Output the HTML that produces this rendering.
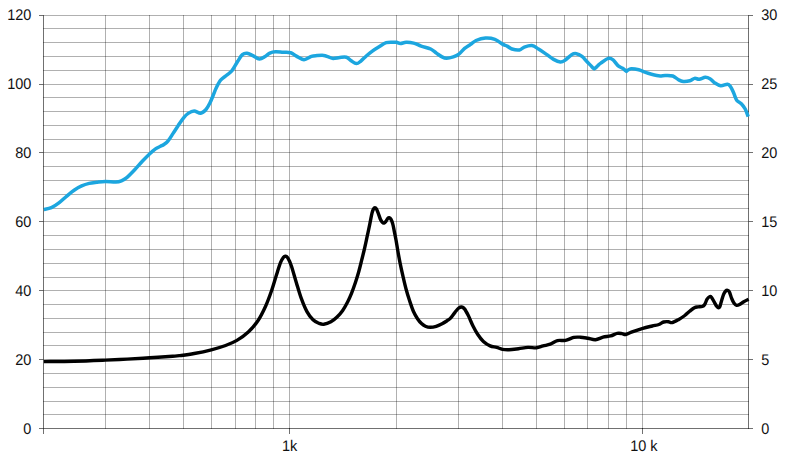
<!DOCTYPE html>
<html><head><meta charset="utf-8"><title>Frequency response</title>
<style>html,body{margin:0;padding:0;background:#fff;overflow:hidden}svg{display:block}</style>
</head><body>
<svg width="792" height="457" viewBox="0 0 792 457">
<rect width="792" height="457" fill="#fff"/>
<g shape-rendering="crispEdges" fill="#000" fill-opacity="0.31"><rect x="43" y="15" width="706" height="1"/><rect x="43" y="28" width="706" height="1"/><rect x="43" y="42" width="706" height="1"/><rect x="43" y="56" width="706" height="1"/><rect x="43" y="70" width="706" height="1"/><rect x="43" y="84" width="706" height="1"/><rect x="43" y="97" width="706" height="1"/><rect x="43" y="111" width="706" height="1"/><rect x="43" y="125" width="706" height="1"/><rect x="43" y="139" width="706" height="1"/><rect x="43" y="152" width="706" height="1"/><rect x="43" y="166" width="706" height="1"/><rect x="43" y="180" width="706" height="1"/><rect x="43" y="194" width="706" height="1"/><rect x="43" y="208" width="706" height="1"/><rect x="43" y="221" width="706" height="1"/><rect x="43" y="235" width="706" height="1"/><rect x="43" y="249" width="706" height="1"/><rect x="43" y="263" width="706" height="1"/><rect x="43" y="277" width="706" height="1"/><rect x="43" y="290" width="706" height="1"/><rect x="43" y="304" width="706" height="1"/><rect x="43" y="318" width="706" height="1"/><rect x="43" y="332" width="706" height="1"/><rect x="43" y="345" width="706" height="1"/><rect x="43" y="359" width="706" height="1"/><rect x="43" y="373" width="706" height="1"/><rect x="43" y="387" width="706" height="1"/><rect x="43" y="401" width="706" height="1"/><rect x="43" y="414" width="706" height="1"/><rect x="105" y="15" width="1" height="414"/><rect x="149" y="15" width="1" height="414"/><rect x="183" y="15" width="1" height="414"/><rect x="211" y="15" width="1" height="414"/><rect x="235" y="15" width="1" height="414"/><rect x="255" y="15" width="1" height="414"/><rect x="273" y="15" width="1" height="414"/><rect x="289" y="15" width="1" height="414"/><rect x="396" y="15" width="1" height="414"/><rect x="458" y="15" width="1" height="414"/><rect x="502" y="15" width="1" height="414"/><rect x="536" y="15" width="1" height="414"/><rect x="564" y="15" width="1" height="414"/><rect x="587" y="15" width="1" height="414"/><rect x="608" y="15" width="1" height="414"/><rect x="626" y="15" width="1" height="414"/><rect x="642" y="15" width="1" height="414"/></g>
<g shape-rendering="crispEdges" fill="#000" fill-opacity="0.56"><rect x="43" y="15" width="1" height="419"/><rect x="748" y="15" width="1" height="414"/><rect x="39" y="428" width="714" height="1"/><rect x="39" y="15" width="4" height="1"/><rect x="749" y="15" width="4" height="1"/><rect x="39" y="84" width="4" height="1"/><rect x="749" y="84" width="4" height="1"/><rect x="39" y="152" width="4" height="1"/><rect x="749" y="152" width="4" height="1"/><rect x="39" y="221" width="4" height="1"/><rect x="749" y="221" width="4" height="1"/><rect x="39" y="290" width="4" height="1"/><rect x="749" y="290" width="4" height="1"/><rect x="39" y="359" width="4" height="1"/><rect x="749" y="359" width="4" height="1"/><rect x="289" y="428" width="1" height="6"/><rect x="642" y="428" width="1" height="6"/></g>
<path d="M43.80 209.50 C45.07 209.20 48.88 208.80 51.40 207.70 C53.92 206.60 56.38 204.80 58.90 202.90 C61.42 201.00 63.97 198.42 66.50 196.30 C69.03 194.18 71.57 191.93 74.10 190.20 C76.63 188.47 79.18 187.03 81.70 185.90 C84.22 184.77 86.68 184.00 89.20 183.40 C91.72 182.80 94.12 182.62 96.80 182.30 C99.48 181.98 102.13 181.53 105.30 181.50 C108.47 181.47 113.12 182.22 115.80 182.10 C118.48 181.98 119.52 181.60 121.40 180.80 C123.28 180.00 124.88 179.13 127.10 177.30 C129.32 175.47 132.17 172.47 134.70 169.80 C137.23 167.13 139.78 163.98 142.30 161.30 C144.82 158.62 147.60 155.77 149.80 153.70 C152.00 151.63 153.72 150.13 155.50 148.90 C157.28 147.67 159.10 147.03 160.50 146.30 C161.90 145.57 162.67 145.35 163.90 144.50 C165.13 143.65 166.37 143.05 167.90 141.20 C169.43 139.35 171.35 136.07 173.10 133.40 C174.85 130.73 176.65 127.80 178.40 125.20 C180.15 122.60 181.97 119.77 183.60 117.80 C185.23 115.83 186.45 114.52 188.20 113.40 C189.95 112.28 192.02 111.13 194.10 111.10 C196.18 111.07 198.72 113.47 200.70 113.20 C202.68 112.93 204.47 111.20 206.00 109.50 C207.53 107.80 208.70 105.37 209.90 103.00 C211.10 100.63 212.15 97.80 213.20 95.30 C214.25 92.80 214.97 90.52 216.20 88.00 C217.43 85.48 218.92 82.28 220.60 80.20 C222.28 78.12 224.40 77.08 226.30 75.50 C228.20 73.92 230.10 73.07 232.00 70.70 C233.90 68.33 235.97 63.98 237.70 61.30 C239.43 58.62 240.83 55.93 242.40 54.60 C243.97 53.27 245.37 53.13 247.10 53.30 C248.83 53.47 250.75 54.65 252.80 55.60 C254.85 56.55 257.35 58.85 259.40 59.00 C261.45 59.15 263.37 57.48 265.10 56.50 C266.83 55.52 268.07 53.88 269.80 53.10 C271.53 52.32 273.28 51.93 275.50 51.80 C277.72 51.67 280.57 52.15 283.10 52.30 C285.63 52.45 288.48 52.07 290.70 52.70 C292.92 53.33 294.18 54.93 296.40 56.10 C298.62 57.27 301.50 59.65 304.00 59.70 C306.50 59.75 309.23 57.08 311.40 56.40 C313.57 55.72 314.95 55.77 317.00 55.60 C319.05 55.43 321.80 55.18 323.70 55.40 C325.60 55.62 326.83 56.40 328.40 56.90 C329.97 57.40 331.20 58.30 333.10 58.40 C335.00 58.50 337.58 57.68 339.80 57.50 C342.02 57.32 344.52 56.77 346.40 57.30 C348.28 57.83 349.43 59.65 351.10 60.70 C352.77 61.75 354.82 63.50 356.40 63.60 C357.98 63.70 358.95 62.57 360.60 61.30 C362.25 60.03 364.40 57.67 366.30 56.00 C368.20 54.33 369.80 52.88 372.00 51.30 C374.20 49.72 377.13 47.93 379.50 46.50 C381.87 45.07 383.98 43.42 386.20 42.70 C388.42 41.98 391.07 42.27 392.80 42.20 C394.53 42.13 395.33 42.08 396.60 42.30 C397.87 42.52 398.82 43.50 400.40 43.50 C401.98 43.50 403.90 42.37 406.10 42.30 C408.30 42.23 411.08 42.47 413.60 43.10 C416.12 43.73 418.35 45.12 421.20 46.10 C424.05 47.08 428.17 47.83 430.70 49.00 C433.23 50.17 434.52 51.78 436.40 53.10 C438.28 54.42 440.30 56.03 442.00 56.90 C443.70 57.77 444.72 58.30 446.60 58.30 C448.48 58.30 451.25 57.60 453.30 56.90 C455.35 56.20 457.02 55.52 458.90 54.10 C460.78 52.68 462.70 49.98 464.60 48.40 C466.50 46.82 468.40 45.92 470.30 44.60 C472.20 43.28 473.47 41.60 476.00 40.50 C478.53 39.40 482.35 38.20 485.50 38.00 C488.65 37.80 492.07 38.28 494.90 39.30 C497.73 40.32 500.45 42.97 502.50 44.10 C504.55 45.23 505.62 45.28 507.20 46.10 C508.78 46.92 509.95 48.37 512.00 49.00 C514.05 49.63 517.45 50.22 519.50 49.90 C521.55 49.58 522.23 47.82 524.30 47.10 C526.37 46.38 529.53 45.28 531.90 45.60 C534.27 45.92 536.13 47.58 538.50 49.00 C540.87 50.42 543.58 52.37 546.10 54.10 C548.62 55.83 551.23 58.08 553.60 59.40 C555.97 60.72 558.40 61.85 560.30 62.00 C562.20 62.15 563.12 61.52 565.00 60.30 C566.88 59.08 569.70 55.80 571.60 54.70 C573.50 53.60 574.67 53.42 576.40 53.70 C578.13 53.98 580.30 55.13 582.00 56.40 C583.70 57.67 585.17 59.80 586.60 61.30 C588.03 62.80 589.53 64.30 590.60 65.40 C591.67 66.50 592.40 67.32 593.00 67.90 C593.60 68.48 593.78 68.90 594.20 68.90 C594.62 68.90 594.90 68.43 595.50 67.90 C596.10 67.37 596.92 66.50 597.80 65.70 C598.68 64.90 599.03 64.32 600.80 63.10 C602.57 61.88 606.35 58.93 608.40 58.40 C610.45 57.87 611.52 58.70 613.10 59.90 C614.68 61.10 616.32 64.20 617.90 65.60 C619.48 67.00 621.38 67.50 622.60 68.30 C623.82 69.10 624.57 69.88 625.20 70.40 C625.83 70.92 625.98 71.42 626.40 71.40 C626.82 71.38 626.92 70.73 627.70 70.30 C628.48 69.87 629.27 68.88 631.10 68.80 C632.93 68.72 635.85 69.07 638.70 69.80 C641.55 70.53 644.88 72.20 648.20 73.20 C651.52 74.20 655.77 75.42 658.60 75.80 C661.43 76.18 662.83 75.47 665.20 75.50 C667.57 75.53 670.58 75.28 672.80 76.00 C675.02 76.72 676.77 78.88 678.50 79.80 C680.23 80.72 681.32 81.33 683.20 81.50 C685.08 81.67 687.90 81.32 689.80 80.80 C691.70 80.28 693.03 78.67 694.60 78.40 C696.17 78.13 697.42 79.38 699.20 79.20 C700.98 79.02 703.52 77.38 705.30 77.30 C707.08 77.22 708.37 77.80 709.90 78.70 C711.43 79.60 712.70 81.53 714.50 82.70 C716.30 83.87 718.53 85.45 720.70 85.70 C722.87 85.95 725.85 84.02 727.50 84.20 C729.15 84.38 729.57 85.33 730.60 86.80 C731.63 88.27 732.68 90.77 733.70 93.00 C734.72 95.23 735.43 98.42 736.70 100.20 C737.97 101.98 739.88 102.23 741.30 103.70 C742.72 105.17 744.05 106.83 745.20 109.00 C746.35 111.17 747.70 115.42 748.20 116.70" fill="none" stroke="#1ca6df" stroke-width="3.5" stroke-linejoin="round" stroke-linecap="butt"/>
<path d="M43.80 361.60 C48.85 361.53 63.85 361.45 74.10 361.20 C84.35 360.95 96.47 360.45 105.30 360.10 C114.13 359.75 119.68 359.48 127.10 359.10 C134.52 358.72 142.22 358.27 149.80 357.80 C157.38 357.33 167.57 356.67 172.60 356.30 C177.63 355.93 176.40 356.07 180.00 355.60 C183.60 355.13 188.98 354.47 194.20 353.50 C199.42 352.53 206.07 351.13 211.30 349.80 C216.53 348.47 221.33 347.07 225.60 345.50 C229.87 343.93 233.12 342.65 236.90 340.40 C240.68 338.15 244.80 335.27 248.30 332.00 C251.80 328.73 255.00 325.13 257.90 320.80 C260.80 316.47 263.40 311.08 265.70 306.00 C268.00 300.92 269.88 295.55 271.70 290.30 C273.52 285.05 275.13 279.10 276.60 274.50 C278.07 269.90 279.35 265.58 280.50 262.70 C281.65 259.82 282.68 258.28 283.50 257.20 C284.32 256.12 284.68 256.10 285.40 256.20 C286.12 256.30 286.82 256.22 287.80 257.80 C288.78 259.38 289.88 261.60 291.30 265.70 C292.72 269.80 294.65 277.00 296.30 282.40 C297.95 287.80 299.40 293.18 301.20 298.10 C303.00 303.02 305.13 308.28 307.10 311.90 C309.07 315.52 311.03 317.90 313.00 319.80 C314.97 321.70 317.10 322.55 318.90 323.30 C320.70 324.05 321.80 324.55 323.80 324.30 C325.80 324.05 328.73 322.97 330.90 321.80 C333.07 320.63 334.83 319.20 336.80 317.30 C338.77 315.40 340.90 312.95 342.70 310.40 C344.50 307.85 346.12 304.88 347.60 302.00 C349.08 299.12 350.28 296.38 351.60 293.10 C352.92 289.82 354.30 285.90 355.50 282.30 C356.70 278.70 357.75 275.27 358.80 271.50 C359.85 267.73 360.88 263.37 361.80 259.70 C362.72 256.03 363.43 253.25 364.30 249.50 C365.17 245.75 366.08 241.43 367.00 237.20 C367.92 232.97 368.97 228.12 369.80 224.10 C370.63 220.08 371.37 215.65 372.00 213.10 C372.63 210.55 373.12 209.70 373.60 208.80 C374.08 207.90 374.43 207.70 374.90 207.70 C375.37 207.70 375.85 207.90 376.40 208.80 C376.95 209.70 377.53 211.37 378.20 213.10 C378.87 214.83 379.70 217.65 380.40 219.20 C381.10 220.75 381.80 221.77 382.40 222.40 C383.00 223.03 383.42 223.17 384.00 223.00 C384.58 222.83 385.30 222.13 385.90 221.40 C386.50 220.67 387.05 219.22 387.60 218.60 C388.15 217.98 388.65 217.60 389.20 217.70 C389.75 217.80 390.30 218.13 390.90 219.20 C391.50 220.27 392.22 222.00 392.80 224.10 C393.38 226.20 393.85 229.07 394.40 231.80 C394.95 234.53 395.53 237.33 396.10 240.50 C396.67 243.67 397.12 246.95 397.80 250.80 C398.48 254.65 399.33 259.33 400.20 263.60 C401.07 267.87 402.02 272.13 403.00 276.40 C403.98 280.67 404.98 285.10 406.10 289.20 C407.22 293.30 408.45 297.23 409.70 301.00 C410.95 304.77 412.30 308.85 413.60 311.80 C414.90 314.75 416.18 316.73 417.50 318.70 C418.82 320.67 420.18 322.35 421.50 323.60 C422.82 324.85 423.93 325.58 425.40 326.20 C426.87 326.82 428.50 327.28 430.30 327.30 C432.10 327.32 434.23 326.90 436.20 326.30 C438.17 325.70 440.28 324.63 442.10 323.70 C443.92 322.77 445.73 321.58 447.10 320.70 C448.47 319.82 448.98 319.80 450.30 318.40 C451.62 317.00 453.58 314.03 455.00 312.30 C456.42 310.57 457.68 308.88 458.80 308.00 C459.92 307.12 460.75 306.85 461.70 307.00 C462.65 307.15 463.40 307.47 464.50 308.90 C465.60 310.33 466.88 312.75 468.30 315.60 C469.72 318.45 471.42 322.85 473.00 326.00 C474.58 329.15 476.07 331.92 477.80 334.50 C479.53 337.08 481.35 339.60 483.40 341.50 C485.45 343.40 487.88 344.92 490.10 345.90 C492.32 346.88 494.65 346.83 496.70 347.40 C498.75 347.97 500.35 348.92 502.40 349.30 C504.45 349.68 506.32 349.80 509.00 349.70 C511.68 349.60 515.33 349.08 518.50 348.70 C521.67 348.32 525.00 347.55 528.00 347.40 C531.00 347.25 533.98 348.05 536.50 347.80 C539.02 347.55 540.80 346.50 543.10 345.90 C545.40 345.30 547.90 345.08 550.30 344.20 C552.70 343.32 554.97 341.23 557.50 340.60 C560.03 339.97 562.80 340.93 565.50 340.40 C568.20 339.87 571.23 337.93 573.70 337.40 C576.17 336.87 577.93 337.05 580.30 337.20 C582.67 337.35 585.37 337.88 587.90 338.30 C590.43 338.72 592.98 339.88 595.50 339.70 C598.02 339.52 600.48 337.83 603.00 337.20 C605.52 336.57 608.23 336.53 610.60 335.90 C612.97 335.27 615.30 333.78 617.20 333.40 C619.10 333.02 620.57 333.42 622.00 333.60 C623.43 333.78 624.23 334.75 625.80 334.50 C627.37 334.25 628.57 333.13 631.40 332.10 C634.23 331.07 639.32 329.32 642.80 328.30 C646.28 327.28 649.62 326.63 652.30 326.00 C654.98 325.37 657.02 325.17 658.90 324.50 C660.78 323.83 662.02 322.47 663.60 322.00 C665.18 321.53 666.97 321.60 668.40 321.70 C669.83 321.80 670.47 322.98 672.20 322.60 C673.93 322.22 676.70 320.58 678.80 319.40 C680.90 318.22 683.00 316.85 684.80 315.50 C686.60 314.15 688.00 312.60 689.60 311.30 C691.20 310.00 693.00 308.43 694.40 307.70 C695.80 306.97 696.68 307.10 698.00 306.90 C699.32 306.70 701.18 306.90 702.30 306.50 C703.42 306.10 703.90 305.73 704.70 304.50 C705.50 303.27 706.30 300.40 707.10 299.10 C707.90 297.80 708.77 297.00 709.50 296.70 C710.23 296.40 710.70 296.40 711.50 297.30 C712.30 298.20 713.43 300.60 714.30 302.10 C715.17 303.60 716.03 305.37 716.70 306.30 C717.37 307.23 717.77 307.67 718.30 307.70 C718.83 307.73 719.37 307.63 719.90 306.50 C720.43 305.37 720.88 302.93 721.50 300.90 C722.12 298.87 722.90 295.95 723.60 294.30 C724.30 292.65 725.05 291.67 725.70 291.00 C726.35 290.33 726.90 290.17 727.50 290.30 C728.10 290.43 728.60 290.43 729.30 291.80 C730.00 293.17 730.90 296.58 731.70 298.50 C732.50 300.42 733.28 302.17 734.10 303.30 C734.92 304.43 735.68 305.10 736.60 305.30 C737.52 305.50 738.40 305.10 739.60 304.50 C740.80 303.90 742.30 302.57 743.80 301.70 C745.30 300.83 747.80 299.70 748.60 299.30" fill="none" stroke="#000" stroke-width="3.4" stroke-linejoin="round" stroke-linecap="butt"/>
<g font-family="'Liberation Sans', sans-serif" font-size="15.4" fill="#111" style="text-rendering:geometricPrecision"><text transform="translate(31.3,20) scale(0.94,1)" text-anchor="end">120</text><text transform="translate(761.2,20) scale(0.94,1)" text-anchor="start">30</text><text transform="translate(31.3,89) scale(0.94,1)" text-anchor="end">100</text><text transform="translate(761.2,89) scale(0.94,1)" text-anchor="start">25</text><text transform="translate(31.3,158) scale(0.94,1)" text-anchor="end">80</text><text transform="translate(761.2,158) scale(0.94,1)" text-anchor="start">20</text><text transform="translate(31.3,227) scale(0.94,1)" text-anchor="end">60</text><text transform="translate(761.2,227) scale(0.94,1)" text-anchor="start">15</text><text transform="translate(31.3,296) scale(0.94,1)" text-anchor="end">40</text><text transform="translate(761.2,296) scale(0.94,1)" text-anchor="start">10</text><text transform="translate(31.3,365) scale(0.94,1)" text-anchor="end">20</text><text transform="translate(761.2,365) scale(0.94,1)" text-anchor="start">5</text><text transform="translate(31.3,434) scale(0.94,1)" text-anchor="end">0</text><text transform="translate(761.2,434) scale(0.94,1)" text-anchor="start">0</text><text transform="translate(289.6,450.9) scale(0.94,1)" text-anchor="middle">1k</text><text transform="translate(643.8,450.9) scale(0.94,1)" text-anchor="middle">10 k</text></g>
</svg>
</body></html>
